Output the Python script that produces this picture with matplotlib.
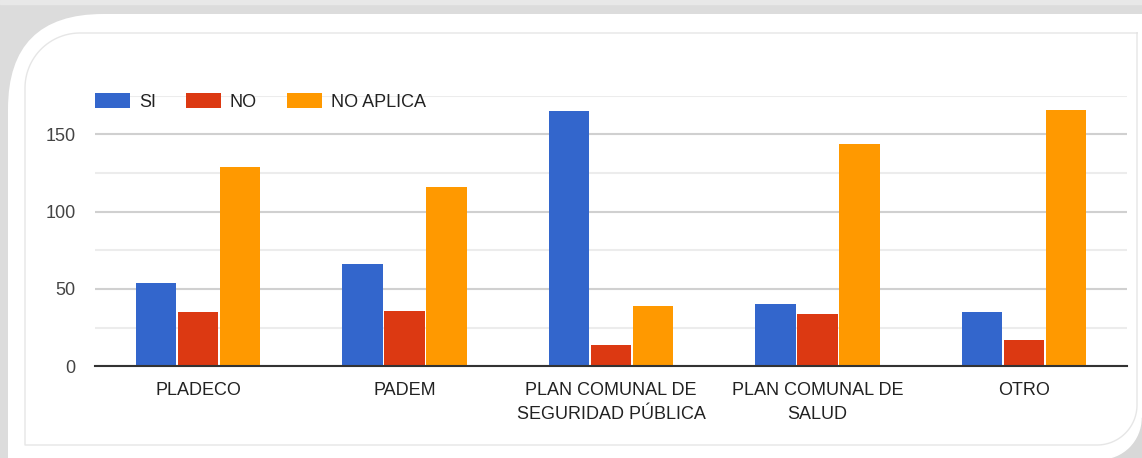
import numpy as np
import matplotlib
matplotlib.use("Agg")
import matplotlib.pyplot as plt
from matplotlib.patches import FancyBboxPatch, Rectangle, Circle

plt.rcParams['font.family'] = ['Liberation Sans', 'DejaVu Sans']

# Data
categories = ["PLADECO", "PADEM", "PLAN COMUNAL DE\nSEGURIDAD PÚBLICA",
              "PLAN COMUNAL DE\nSALUD", "OTRO"]
series_names = ["SI", "NO", "NO APLICA"]
si = [54, 66, 165, 40, 35]
no = [35, 36, 14, 34, 17]
no_aplica = [129, 116, 39, 144, 166]
colors = ["#3366cc", "#dc3912", "#ff9900"]

W, H = 1142, 458
fig = plt.figure(figsize=(W / 100, H / 100), dpi=100)
fig.patch.set_facecolor("white")

# background card (pixel coords, y up)
bg = fig.add_axes([0, 0, 1, 1])
bg.set_xlim(0, W)
bg.set_ylim(0, H)
bg.axis("off")
bg.add_patch(Rectangle((0, 0), W, H, color="#dcdcdc", zorder=0))
bg.add_patch(Rectangle((0, H - 4), W, 4, color="#e8e8e8", zorder=0))
bg.add_patch(FancyBboxPatch((8, -300), W + 300, H - 14 + 300,
                            boxstyle="round,pad=0,rounding_size=95",
                            facecolor="white", edgecolor="none", zorder=1))
# shadow at bottom-right corner
bg.add_patch(Rectangle((W - 42, 0), 42, 40, color="#d8d8d8", zorder=2))
bg.add_patch(Circle((W - 42, 40), 41, color="white", zorder=3))

# inner light border: rounded top-left and bottom-right corners
def arc(cx, cy, r, a0, a1):
    t = np.radians(np.linspace(a0, a1, 30))
    return np.column_stack([cx + r * np.cos(t), cy + r * np.sin(t)])

x0, x1, y0, y1 = 25, 1137, H - 445, H - 33
r1, r2 = 55, 40
pts = np.vstack([
    [[x1, y1]],
    arc(x1 - r2, y0 + r2, r2, 0, -90),
    [[x0, y0]],
    arc(x0 + r1, y1 - r1, r1, 180, 90),
    [[x1, y1]],
])
bg.plot(pts[:, 0], pts[:, 1], color="#e6e6e6", linewidth=1, zorder=4)

ax = fig.add_axes([94.9 / W, 1 - 366.3 / H, 1032.4 / W, 270.6 / H])
ax.set_facecolor("none")

x = np.arange(len(categories))
width = 0.196
offsets = [-0.203, 0, 0.203]
handles = []
for vals, off, c, name in zip([si, no, no_aplica], offsets, colors, series_names):
    b = ax.bar(x + off, vals, width, color=c, label=name, zorder=3)
    handles.append(b)

ax.set_xlim(-0.5, len(categories) - 0.5)
ax.set_ylim(0, 175)
ax.set_yticks([0, 50, 100, 150])
ax.set_yticks([25, 75, 125, 175], minor=True)
ax.grid(axis="y", which="major", color="#d0d0d0", linewidth=1.5, zorder=0)
ax.grid(axis="y", which="minor", color="#ececec", linewidth=1.5, zorder=0)
ax.tick_params(axis="y", which="both", length=0, pad=14, labelsize=13, labelcolor="#444444")
ax.tick_params(axis="x", length=0, pad=11, labelsize=13, labelcolor="#222222")
ax.set_xticks(x)
ax.set_xticklabels(categories, linespacing=1.55)
for s in ["top", "right", "left"]:
    ax.spines[s].set_visible(False)
ax.spines["bottom"].set_color("#333333")
ax.spines["bottom"].set_linewidth(1.5)
ax.spines["bottom"].set_zorder(4)

leg = ax.legend(handles=handles, loc="center left",
                bbox_to_anchor=(95 / W, 1 - 101.7 / H), bbox_transform=fig.transFigure,
                ncol=3, frameon=False, fontsize=13, borderpad=0, borderaxespad=0,
                handlelength=1.94, handleheight=0.94, handletextpad=0.5,
                columnspacing=1.65)
for t in leg.get_texts():
    t.set_color("#222222")

fig.savefig("out.png", dpi=100)
